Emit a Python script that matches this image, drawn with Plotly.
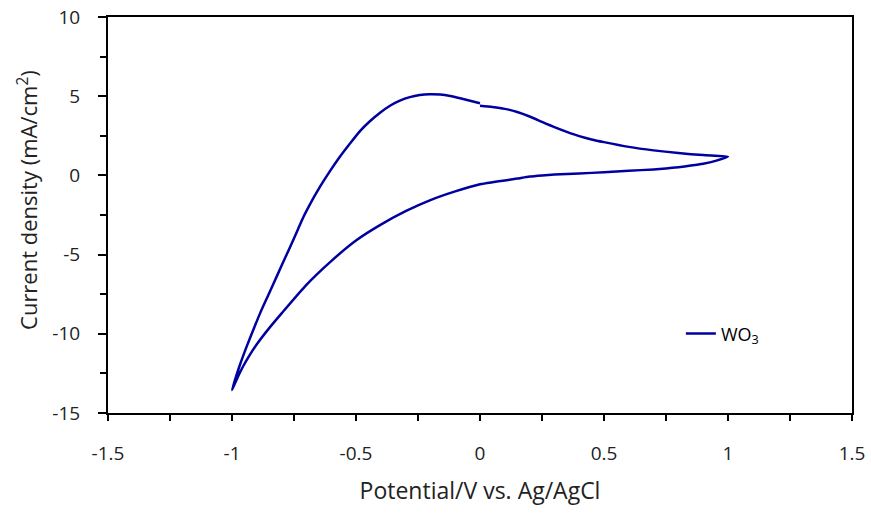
import plotly.graph_objects as go

# Cyclic voltammogram of WO3
potential = [0.0, 0.05, 0.1, 0.15, 0.2, 0.25, 0.3, 0.35, 0.4, 0.45, 0.5, 0.6, 0.7, 0.8, 0.9, 1.0,
             0.95, 0.9, 0.85, 0.8, 0.75, 0.7, 0.6, 0.5, 0.4, 0.3, 0.25, 0.2, 0.15, 0.1, 0.05, 0.0,
             -0.1, -0.2, -0.3, -0.4, -0.5, -0.6, -0.7, -0.8, -0.85, -0.9, -0.93, -0.955, -0.975,
             -0.99, -1.0,
             -0.97, -0.941, -0.914, -0.887, -0.853, -0.82, -0.787, -0.753, -0.733, -0.712,
             -0.69, -0.668, -0.645, -0.605, -0.565, -0.525, -0.484, -0.444, -0.403, -0.363,
             -0.323, -0.283, -0.243, -0.203, -0.16, -0.12, -0.08, -0.04, 0.0]
current = [4.40, 4.32, 4.20, 4.00, 3.72, 3.38, 3.05, 2.75, 2.48, 2.27, 2.10, 1.80, 1.58, 1.41, 1.28, 1.18,
           0.92, 0.74, 0.62, 0.52, 0.44, 0.38, 0.29, 0.20, 0.12, 0.05, 0.00, -0.07, -0.20, -0.32, -0.43, -0.56,
           -1.01, -1.56, -2.26, -3.11, -4.11, -5.41, -6.91, -8.71, -9.64, -10.66, -11.38, -12.05, -12.67,
           -13.20, -13.55,
           -12.05, -10.81, -9.75, -8.71, -7.53, -6.39, -5.25, -4.08, -3.37, -2.63,
           -1.96, -1.33, -0.71, 0.27, 1.18, 2.00, 2.80, 3.42, 3.96, 4.40,
           4.72, 4.94, 5.07, 5.12, 5.10, 5.01, 4.87, 4.71, 4.55]
series_name = "WO<sub>3</sub>"

x_ticks = [-1.5, -1, -0.5, 0, 0.5, 1, 1.5]
x_tick_labels = ["-1.5", "-1", "-0.5", "0", "0.5", "1", "1.5"]
y_ticks = [10, 5, 0, -5, -10, -15]
y_tick_labels = ["10", "5", "0", "-5", "-10", "-15"]

FONT = "Open Sans"
TEXT_COLOR = "#222222"
LINE_COLOR = "#0000A0"

fig = go.Figure()
fig.add_trace(go.Scatter(
    x=potential, y=current, mode="lines", name=series_name,
    line=dict(color=LINE_COLOR, width=2.5, shape="spline", smoothing=0.6),
))

axis_common = dict(
    showline=True, linecolor="black", linewidth=2, mirror=True,
    showgrid=False, zeroline=False, automargin=False,
    ticks="outside", tickcolor="black", tickwidth=2,
    tickfont=dict(family=FONT, size=19, color=TEXT_COLOR),
)

fig.update_xaxes(
    range=[-1.5, 1.5], tickvals=x_ticks, ticktext=x_tick_labels, ticklen=6,
    ticklabelstandoff=16,
    minor=dict(dtick=0.25, ticks="outside", ticklen=6, tickwidth=2, tickcolor="black"),
    title=dict(text="Potential/V vs. Ag/AgCl", font=dict(family=FONT, size=23, color=TEXT_COLOR), standoff=18),
    **axis_common,
)
fig.update_yaxes(
    range=[-15, 10], tickvals=y_ticks, ticktext=y_tick_labels, ticklen=8,
    ticklabelstandoff=14,
    minor=dict(dtick=2.5, ticks="outside", ticklen=6, tickwidth=2, tickcolor="black"),
    **axis_common,
)

# y-axis title placed where the reference shows it
fig.add_annotation(
    text="Current density (mA/cm<sup>2</sup>)", textangle=-90,
    xref="paper", yref="paper", x=-0.1075, y=0.538, xanchor="center", yanchor="middle",
    showarrow=False, font=dict(family=FONT, size=22, color=TEXT_COLOR),
)

fig.update_layout(
    width=871, height=514,
    margin=dict(l=108, r=19, t=17, b=101),
    paper_bgcolor="white", plot_bgcolor="white",
    showlegend=True,
    legend=dict(x=0.77, y=0.2, xanchor="left", yanchor="middle",
                bgcolor="rgba(0,0,0,0)", font=dict(family=FONT, size=18, color="black"),
                itemwidth=30),
)

fig.write_html("out.html")
